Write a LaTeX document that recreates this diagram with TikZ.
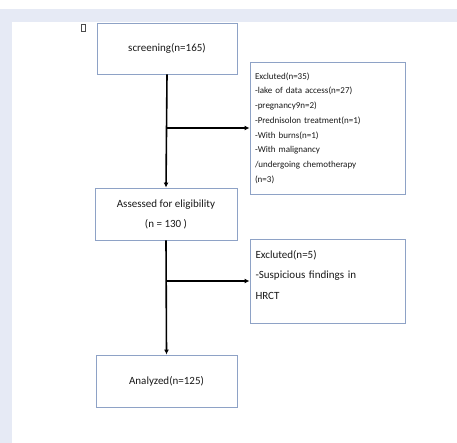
\documentclass[tikz,border=0pt]{standalone}
\usepackage{fontspec}
\setmainfont{Carlito}
\usetikzlibrary{arrows.meta}
\definecolor{panelbg}{HTML}{E6EAF5}
\definecolor{boxline}{HTML}{8EA2C6}
\tikzset{flowbox/.style={draw=boxline,line width=.9pt,text=black!90,inner sep=5pt},
  flowline/.style={line width=1.6pt,-{Latex[length=5pt,width=5pt]}}}

\begin{document}
\begin{tikzpicture}[x=1pt,y=-1pt]
      % page background and panel
      \fill[white] (0,0) rectangle (457,443); \fill[panelbg] (0,9) rectangle
      (457,443); \fill[white] (12,22) rectangle (457,443);
      \useasboundingbox (0,0) rectangle (457,443);
      \node[draw=black!70,line width=1pt,minimum width=4pt,minimum
      height=6.5pt,inner sep=0pt] (mark) at (83,28) {};
      % main column
      \node[flowbox,minimum width=140pt,minimum height=51pt,
      font=\fontsize{11}{12}\selectfont] (screen) at (167,48.5)
      {screening(n=165)};
      \node[flowbox,minimum width=142pt,minimum height=52pt,align=center,
      font=\fontsize{11}{20}\selectfont] (assess) at (166,214)
      {Assessed for eligibility\\(n = 130 )};
      \node[flowbox,minimum width=141pt,minimum height=52pt,
      font=\fontsize{11}{12}\selectfont] (analyzed) at (166.5,381)
      {Analyzed(n=125)};
      % exclusion boxes
      \node[flowbox,minimum width=155pt,minimum height=132pt,text
      width=145pt,align=left,font=\fontsize{9}{14.7}\selectfont]
      (excl1) at (327.5,128) {Excluted(n=35)\\-lake of data
      access(n=27)\\-pregnancy9n=2)\\-Prednisolon treatment(n=1)\\-With
      burns(n=1)\\-With malignancy\\/undergoing chemotherapy\\(n=3)};
      \node[flowbox,minimum width=155pt,minimum height=84pt,text
      width=144pt,align=left,font=\fontsize{11}{20.5}\selectfont]
      (excl2) at (327.5,281) {Excluted(n=5)\\-Suspicious findings
      in\\HRCT\rule[-12.5pt]{0pt}{0pt}};
      % connectors
      \draw[flowline] (screen.south) -- (assess.north);
      \draw[flowline] (screen.south |- excl1.west) -- (excl1.west);
      \draw[flowline] (assess.south) -- (analyzed.north);
      \draw[flowline] (assess.south |- excl2.west) -- (excl2.west);
\end{tikzpicture}
\end{document}
